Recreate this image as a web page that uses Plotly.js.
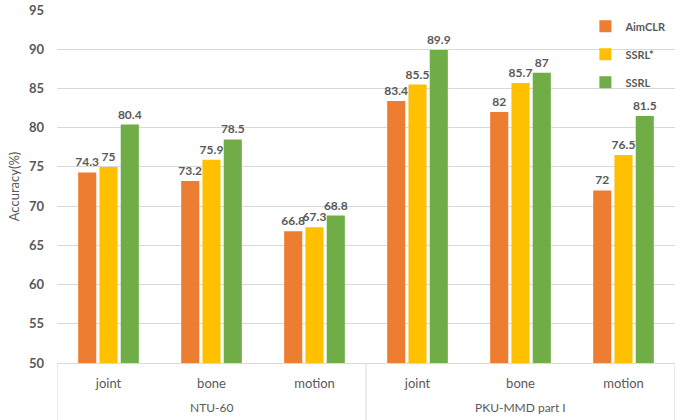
<!DOCTYPE html>
<html>
<head>
<meta charset="utf-8">
<script src="https://cdn.plot.ly/plotly-3.0.1.min.js"></script>
<style>
  html, body { margin: 0; padding: 0; background: #fff; }
  #chart { width: 683px; height: 420px; }
</style>
</head>
<body>
<div id="chart"></div>
<script>
// Feature stream of each bar cluster, and the dataset each belongs to
const streams = ["joint", "bone", "motion", "joint", "bone", "motion"];
const datasets = ["NTU-60", "PKU-MMD part I"];
const streamsPerDataset = 3;

// Accuracy (%) per method
const aimclr = [74.3, 73.2, 66.8, 83.4, 82, 72];
const ssrlStar = [75, 75.9, 67.3, 85.5, 85.7, 76.5];
const ssrl = [80.4, 78.5, 68.8, 89.9, 87, 81.5];

const seriesNames = ["AimCLR", "SSRL*", "SSRL"];
const seriesColors = ["#ED7D31", "#FFC000", "#70AD47"];
const seriesValues = [aimclr, ssrlStar, ssrl];

const yTicks = [50, 55, 60, 65, 70, 75, 80, 85, 90, 95];

const grey = "#595959";
const lineGrey = "#d9d9d9";
const fontFamily = "Lato, 'Open Sans', sans-serif";

const xIdx = streams.map((_, i) => i);

const traces = seriesValues.map((vals, i) => ({
  type: "bar",
  name: seriesNames[i],
  legendgroup: "g" + i,
  x: xIdx,
  y: vals,
  base: 0,
  marker: { color: seriesColors[i], line: { width: 0 } },
  text: vals.map(v => String(v)),
  textposition: "outside",
  constraintext: "none",
  textfont: { family: fontFamily, size: 12, color: grey, weight: "bold" },
  cliponaxis: false,
  hoverinfo: "skip"
}));

// Dataset labels under the stream labels, centred on each block of clusters
const annotations = datasets.map((name, d) => ({
  text: name,
  xref: "x", yref: "paper",
  x: d * streamsPerDataset + (streamsPerDataset - 1) / 2,
  y: 0, yanchor: "middle",
  yshift: -44,
  showarrow: false,
  font: { family: fontFamily, size: 12, color: grey }
}));

// Vertical separators bounding each dataset block, running to the bottom edge
const shapes = [];
for (let d = 0; d <= datasets.length; d++) {
  shapes.push({
    type: "line",
    xref: "x", yref: "paper",
    x0: d * streamsPerDataset - 0.5, x1: d * streamsPerDataset - 0.5,
    y0: 0, y1: -0.17,
    line: { color: lineGrey, width: 1 }
  });
}

const layout = {
  width: 683,
  height: 420,
  margin: { l: 57, r: 8, t: 10, b: 57 },
  paper_bgcolor: "#ffffff",
  plot_bgcolor: "#ffffff",
  font: { family: fontFamily, color: grey, size: 12 },
  barmode: "group",
  bargap: 0.38,
  bargroupgap: 0.15,
  showlegend: true,
  legend: {
    x: 0.855, xanchor: "left",
    y: 0.995, yanchor: "top",
    bgcolor: "rgba(255,255,255,0)",
    font: { family: fontFamily, size: 11, color: grey, weight: "bold" },
    tracegroupgap: 9,
    itemwidth: 30
  },
  annotations: annotations,
  shapes: shapes,
  xaxis: {
    range: [-0.5, streams.length - 0.5],
    tickvals: xIdx,
    ticktext: streams,
    showline: true,
    linecolor: lineGrey,
    linewidth: 1,
    showgrid: false,
    zeroline: false,
    ticks: "",
    ticklabelstandoff: 8,
    tickfont: { family: fontFamily, size: 13, color: grey },
    fixedrange: true
  },
  yaxis: {
    range: [50, 95],
    tickvals: yTicks,
    ticktext: yTicks.map(String),
    showgrid: true,
    gridcolor: lineGrey,
    gridwidth: 1,
    zeroline: false,
    showline: false,
    ticks: "",
    ticklabelstandoff: 12,
    tickfont: { family: fontFamily, size: 13, color: grey, weight: "bold" },
    title: { text: "Accuracy(%)", font: { family: fontFamily, size: 13, color: grey }, standoff: 6 },
    fixedrange: true
  }
};

Plotly.newPlot("chart", traces, layout, { displayModeBar: false, staticPlot: true });
</script>
</body>
</html>
